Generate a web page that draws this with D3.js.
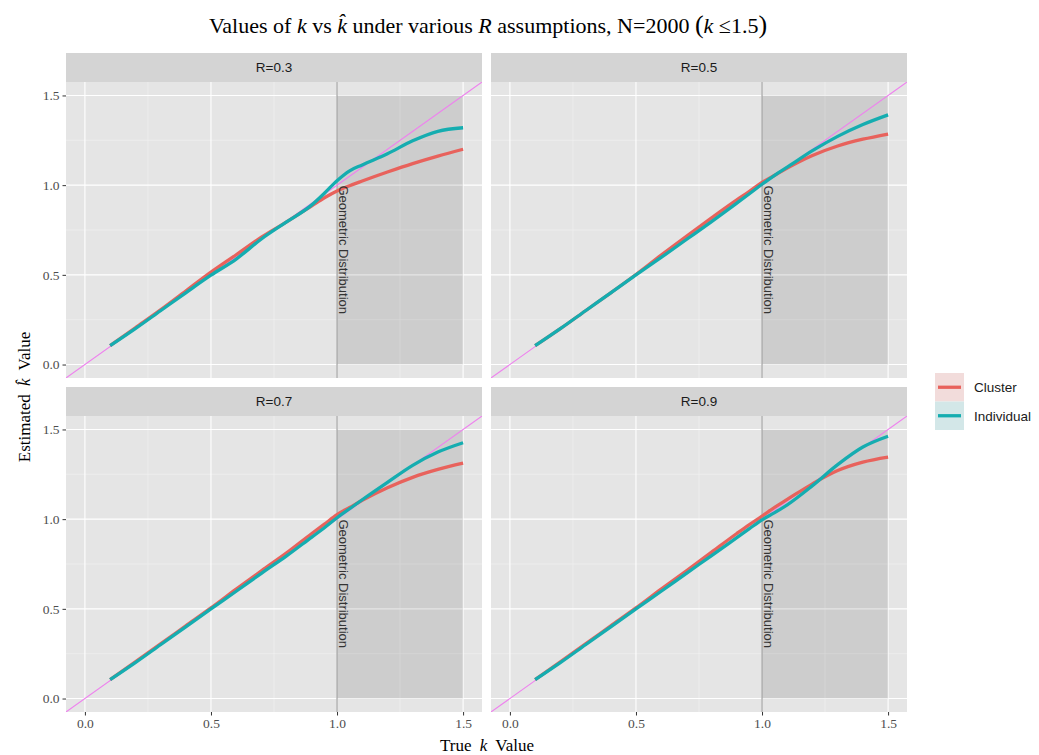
<!DOCTYPE html>
<html>
<head>
<meta charset="utf-8">
<script src="https://cdn.jsdelivr.net/npm/d3@7"></script>
<style>
  body { margin: 0; background: #fff; }
  .tick text { font-family: "Liberation Serif", "Times New Roman", serif; font-size: 13.5px; fill: #4d4d4d; }
  .tick line { stroke: #333; }
</style>
</head>
<body>
<svg width="1039" height="755"></svg>
<script>
/*
    k vs k-hat, facetted by R
*/

// true k values (x) shared by every panel
var kTrue = [0.1, 0.2, 0.3, 0.4, 0.5, 0.6, 0.7, 0.8, 0.9, 0.95, 1.0, 1.05, 1.1, 1.2, 1.3, 1.4, 1.5];

var panelNames = ["R=0.3", "R=0.5", "R=0.7", "R=0.9"];
var seriesNames = ["Cluster", "Individual"];

// estimated k per panel
var cluster03    = [0.105, 0.205, 0.305, 0.41, 0.515, 0.612, 0.71, 0.795, 0.885, 0.93, 0.968, 0.997, 1.023, 1.073, 1.12, 1.162, 1.2];
var individual03 = [0.105, 0.2, 0.3, 0.4, 0.498, 0.588, 0.7, 0.795, 0.89, 0.955, 1.025, 1.08, 1.113, 1.175, 1.247, 1.3, 1.32];

var cluster05    = [0.105, 0.2, 0.3, 0.4, 0.502, 0.61, 0.715, 0.818, 0.918, 0.965, 1.015, 1.055, 1.095, 1.165, 1.218, 1.256, 1.285];
var individual05 = [0.105, 0.2, 0.3, 0.4, 0.5, 0.597, 0.697, 0.797, 0.9, 0.952, 1.005, 1.055, 1.1, 1.192, 1.272, 1.338, 1.392];

var cluster07    = [0.105, 0.205, 0.305, 0.405, 0.505, 0.61, 0.712, 0.812, 0.92, 0.972, 1.025, 1.065, 1.105, 1.175, 1.233, 1.277, 1.312];
var individual07 = [0.105, 0.2, 0.3, 0.4, 0.5, 0.598, 0.698, 0.795, 0.9, 0.952, 1.008, 1.058, 1.108, 1.205, 1.3, 1.374, 1.426];

var cluster09    = [0.105, 0.205, 0.305, 0.405, 0.505, 0.61, 0.712, 0.816, 0.92, 0.97, 1.017, 1.066, 1.11, 1.197, 1.271, 1.318, 1.346];
var individual09 = [0.105, 0.2, 0.3, 0.4, 0.5, 0.598, 0.698, 0.797, 0.897, 0.947, 0.996, 1.036, 1.08, 1.187, 1.304, 1.402, 1.462];

var majorTicks = [0, 0.5, 1, 1.5];
var tickLabels = ["0.0", "0.5", "1.0", "1.5"];
var minorTicks = [0.25, 0.75, 1.25];

// geometric-distribution region
var geoStart = 1.0, geoEnd = 1.5, geoLow = 0, geoHigh = 1.5;
var geoLabel = "Geometric Distribution";
var geoLabelY = 0.64;

var panelData = [
    [cluster03, individual03],
    [cluster05, individual05],
    [cluster07, individual07],
    [cluster09, individual09]
];

var svg = d3.select("svg"),
    panelW = 416,
    panelH = 296,
    stripH = 29,
    cols = [66, 491],
    rows = [82, 416];

var sans = "'Liberation Sans', Arial, Helvetica, sans-serif",
    serif = "'Liberation Serif', 'Times New Roman', serif";

var x = d3.scaleLinear().domain([-0.075, 1.575]).range([0, panelW]);
var y = d3.scaleLinear().domain([-0.075, 1.575]).range([panelH, 0]);
var color = d3.scaleOrdinal().domain(seriesNames).range(["#e8625c", "#15adb0"]);

var line = d3.line()
    .curve(d3.curveMonotoneX)
    .x(function(d) { return x(d.k); })
    .y(function(d) { return y(d.v); });

panelNames.forEach(function(name, i) {
    var col = i % 2, row = Math.floor(i / 2);
    var g = svg.append("g")
        .attr("transform", "translate(" + cols[col] + "," + rows[row] + ")");

    g.append("rect")
        .attr("width", panelW).attr("height", panelH)
        .attr("fill", "#e5e5e5");

    // strip
    g.append("rect")
        .attr("y", -stripH).attr("width", panelW).attr("height", stripH)
        .attr("fill", "#d4d4d4");
    g.append("text")
        .attr("x", panelW / 2).attr("y", -stripH / 2 + 4.5)
        .attr("text-anchor", "middle")
        .style("font", "13.5px " + sans)
        .style("fill", "#1a1a1a")
        .text(name);

    g.append("defs").append("clipPath")
        .attr("id", "clip" + i)
        .append("rect").attr("width", panelW).attr("height", panelH);

    var grid = g.append("g");
    grid.selectAll(".minx").data(minorTicks).enter().append("line")
        .attr("x1", x).attr("x2", x).attr("y1", 0).attr("y2", panelH)
        .attr("stroke", "#f2f2f2").attr("stroke-width", 0.6);
    grid.selectAll(".miny").data(minorTicks).enter().append("line")
        .attr("y1", y).attr("y2", y).attr("x1", 0).attr("x2", panelW)
        .attr("stroke", "#f2f2f2").attr("stroke-width", 0.6);
    grid.selectAll(".majx").data(majorTicks).enter().append("line")
        .attr("x1", x).attr("x2", x).attr("y1", 0).attr("y2", panelH)
        .attr("stroke", "#fff").attr("stroke-width", 1.1);
    grid.selectAll(".majy").data(majorTicks).enter().append("line")
        .attr("y1", y).attr("y2", y).attr("x1", 0).attr("x2", panelW)
        .attr("stroke", "#fff").attr("stroke-width", 1.1);

    var plot = g.append("g").attr("clip-path", "url(#clip" + i + ")");

    plot.append("rect")
        .attr("x", x(geoStart)).attr("width", x(geoEnd) - x(geoStart))
        .attr("y", y(geoHigh)).attr("height", y(geoLow) - y(geoHigh))
        .attr("fill", "#000").attr("fill-opacity", 0.1);

    plot.append("line")
        .attr("x1", x(geoStart)).attr("x2", x(geoStart))
        .attr("y1", 0).attr("y2", panelH)
        .attr("stroke", "#8f8f8f").attr("stroke-width", 1);

    // y = x reference
    plot.append("line")
        .attr("x1", x(-0.075)).attr("y1", y(-0.075))
        .attr("x2", x(1.575)).attr("y2", y(1.575))
        .attr("stroke", "violet").attr("stroke-width", 1.1);

    seriesNames.forEach(function(s, j) {
        var pts = kTrue.map(function(k, n) { return {k: k, v: panelData[i][j][n]}; });
        plot.append("path")
            .datum(pts)
            .attr("d", line)
            .attr("fill", "none")
            .attr("stroke", color(s))
            .attr("stroke-width", 3.3)
            .attr("stroke-linecap", "butt");
    });

    g.append("text")
        .attr("transform", "translate(" + (x(geoStart) + 2) + "," + y(geoLabelY) + ") rotate(90)")
        .attr("text-anchor", "middle")
        .style("font", "13px " + sans)
        .style("fill", "#333")
        .text(geoLabel);

    // axes only on the outer panels
    if (col == 0) {
        g.append("g")
            .call(d3.axisLeft(y).tickValues(majorTicks)
                .tickFormat(function(d, n) { return tickLabels[n]; })
                .tickSize(3.5).tickPadding(3))
            .call(function(a) { a.select(".domain").remove(); });
    }
    if (row == 1) {
        g.append("g")
            .attr("transform", "translate(0," + panelH + ")")
            .call(d3.axisBottom(x).tickValues(majorTicks)
                .tickFormat(function(d, n) { return tickLabels[n]; })
                .tickSize(3.5).tickPadding(3))
            .call(function(a) { a.select(".domain").remove(); });
    }
});

svg.selectAll(".tick text").attr("fill", "#4d4d4d");

// title
var title = svg.append("text")
    .attr("x", 488).attr("y", 33)
    .attr("text-anchor", "middle")
    .style("font-family", serif).style("font-size", "22px")
    .style("fill", "#000");
title.append("tspan").text("Values of ");
title.append("tspan").style("font-style", "italic").text("k");
title.append("tspan").text(" vs ");
title.append("tspan").style("font-style", "italic").text("k\u0302");
title.append("tspan").text(" under various ");
title.append("tspan").style("font-style", "italic").text("R");
title.append("tspan").text(" assumptions, N=2000 ");
title.append("tspan").style("font-size", "26px").text("(");
title.append("tspan").style("font-style", "italic").text("k");
title.append("tspan").text(" \u22641.5");
title.append("tspan").style("font-size", "26px").text(")");

// axis titles
var xt = svg.append("text")
    .attr("x", 487).attr("y", 751)
    .attr("text-anchor", "middle")
    .style("font-family", serif).style("font-size", "17px")
    .style("fill", "#000");
xt.append("tspan").text("True ");
xt.append("tspan").attr("dx", 4).style("font-style", "italic").text("k");
xt.append("tspan").attr("dx", 4).text(" Value");

var yt = svg.append("text")
    .attr("transform", "translate(30,397) rotate(-90)")
    .attr("text-anchor", "middle")
    .style("font-family", serif).style("font-size", "17px")
    .style("fill", "#000");
yt.append("tspan").text("Estimated ");
yt.append("tspan").attr("dx", 4).style("font-style", "italic").text("k\u0302");
yt.append("tspan").attr("dx", 4).text(" Value");

// legend
var legendFill = ["#f2dcdb", "#d3e7e8"];
var legend = svg.append("g").attr("transform", "translate(935,373)");
seriesNames.forEach(function(s, j) {
    var lg = legend.append("g").attr("transform", "translate(0," + (j * 28.5) + ")");
    lg.append("rect").attr("width", 29).attr("height", 28.5).attr("fill", legendFill[j]);
    lg.append("line")
        .attr("x1", 3).attr("x2", 26).attr("y1", 14.25).attr("y2", 14.25)
        .attr("stroke", color(s)).attr("stroke-width", 3.3);
    lg.append("text")
        .attr("x", 39).attr("y", 19)
        .style("font", "13.5px " + sans)
        .style("fill", "#1a1a1a")
        .text(s);
});
</script>
</body>
</html>
